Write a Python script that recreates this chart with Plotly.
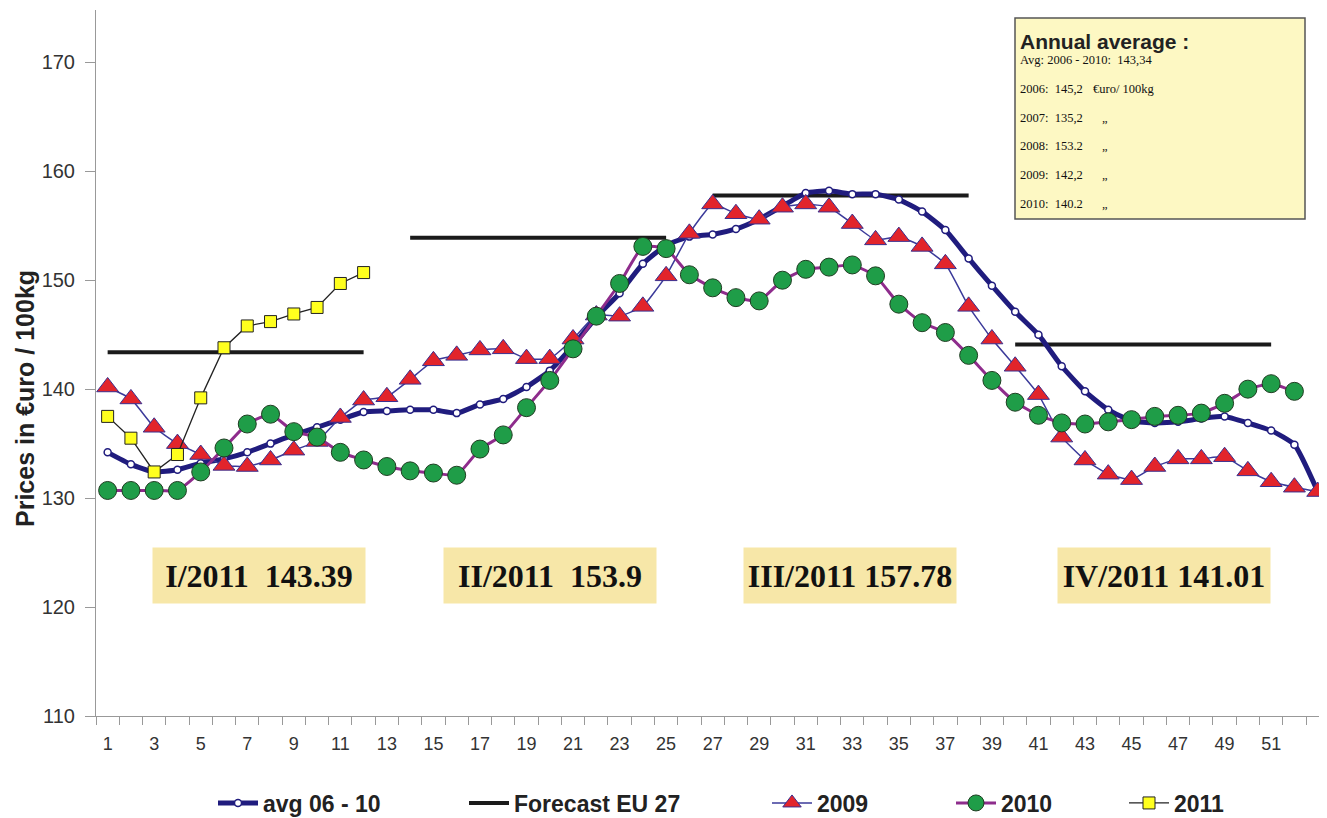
import plotly.graph_objects as go

# ---------------- data ----------------
weeks = list(range(1, 54))

avg_06_10 = [134.2, 133.1, 132.4, 132.6, 133.2, 133.6, 134.2, 135.0, 135.8, 136.5,
             137.2, 137.9, 138.0, 138.1, 138.1, 137.8, 138.6, 139.1, 140.2, 141.7,
             144.0, 146.6, 148.8, 151.5, 153.2, 154.0, 154.2, 154.7, 155.6, 156.8,
             158.0, 158.2, 157.9, 157.9, 157.4, 156.3, 154.6, 152.0, 149.5, 147.1,
             145.0, 142.1, 139.8, 138.1, 137.1, 136.9, 137.0, 137.3, 137.5, 136.9,
             136.2, 134.9, 130.6]

y2009 = [140.2, 139.1, 136.5, 135.0, 134.0, 133.0, 132.9, 133.5, 134.4, 135.2,
         137.4, 139.0, 139.3, 140.9, 142.6, 143.1, 143.6, 143.7, 142.8, 142.8,
         144.6, 146.8, 146.7, 147.6, 150.4, 154.3, 157.0, 156.1, 155.6, 156.7,
         157.0, 156.7, 155.2, 153.7, 154.0, 153.1, 151.5, 147.6, 144.6, 142.1,
         139.5, 135.6, 133.5, 132.2, 131.7, 132.9, 133.6, 133.6, 133.8, 132.5,
         131.5, 131.0, 130.6]

y2010 = [130.7, 130.7, 130.7, 130.7, 132.4, 134.6, 136.8, 137.7, 136.1, 135.6,
         134.2, 133.5, 132.9, 132.5, 132.3, 132.1, 134.5, 135.8, 138.3, 140.8,
         143.7, 146.7, 149.7, 153.1, 152.9, 150.5, 149.3, 148.4, 148.1, 150.0,
         151.0, 151.2, 151.4, 150.4, 147.8, 146.1, 145.2, 143.1, 140.8, 138.8,
         137.6, 136.9, 136.8, 137.0, 137.2, 137.5, 137.6, 137.8, 138.7, 140.0,
         140.5, 139.8]

y2011 = [137.5, 135.5, 132.4, 134.0, 139.2, 143.8, 145.8, 146.2, 146.9, 147.5,
         149.7, 150.7]

# Forecast EU 27 per quarter: start week, end week, level
fc_start = [1, 14, 27, 40]
fc_end = [12, 25, 38, 51]
fc_level = [143.39, 153.9, 157.78, 144.1]

quarter_labels = ["I/2011\u00a0 143.39", "II/2011\u00a0 153.9", "III/2011 157.78", "IV/2011 141.01"]
quarter_centers = [7.5, 20.0, 32.9, 46.4]

annual_title = "Annual average :"
annual_lines = ["Avg: 2006 - 2010:\u00a0 143,34", "2006:\u00a0 145,2", "2007:\u00a0 135,2",
                "2008:\u00a0 153.2", "2009:\u00a0 142,2", "2010:\u00a0 140.2"]
annual_suffix = ["", "€uro/ 100kg", "„", "„", "„", "„"]

x_tick_vals = list(range(1, 52, 2))
y_tick_vals = list(range(110, 171, 10))

# ---------------- layout helpers (reference pixel -> paper) ----------------
OFF = 8  # page body margin
W, H = 1327 - OFF, 818 - OFF
ML, MR, MT, MB = 96 - OFF, 0, 10 - OFF, 818 - 716
PW, PH = W - ML - MR, H - MT - MB


def px(x):
    return (x - OFF - ML) / PW


def py(y):
    return (H - MB - (y - OFF)) / PH


# forecast line segments
fc_x, fc_y = [], []
for s, e, v in zip(fc_start, fc_end, fc_level):
    fc_x += [s, e, None]
    fc_y += [v, v, None]

fig = go.Figure()

fig.add_trace(go.Scatter(
    x=fc_x, y=fc_y, mode="lines", name="Forecast EU 27",
    line=dict(color="#1b1b1b", width=4), legend="legend2"))

fig.add_trace(go.Scatter(
    x=weeks, y=avg_06_10, mode="lines+markers", name="avg 06 - 10",
    line=dict(color="#201c7e", width=5, shape="spline", smoothing=0.5),
    marker=dict(symbol="circle", size=7, color="white",
                line=dict(color="#201c7e", width=1.5)),
    legend="legend"))

fig.add_trace(go.Scatter(
    x=weeks, y=y2009, mode="lines+markers", name="2009",
    line=dict(color="#3b3a9a", width=1.5, shape="spline", smoothing=0.4),
    marker=dict(symbol="triangle-up", size=19, color="#e2242b",
                line=dict(color="#3b2f8f", width=1)),
    legend="legend3"))

fig.add_trace(go.Scatter(
    x=weeks[:len(y2010)], y=y2010, mode="lines+markers", name="2010",
    line=dict(color="#8e2c8c", width=3, shape="spline", smoothing=0.4),
    marker=dict(symbol="circle", size=18, color="#1f9d48",
                line=dict(color="#1f3d22", width=1)),
    legend="legend4"))

fig.add_trace(go.Scatter(
    x=weeks[:len(y2011)], y=y2011, mode="lines+markers", name="2011",
    line=dict(color="#222222", width=1.3),
    marker=dict(symbol="square", size=12, color="#ffff1e",
                line=dict(color="#222222", width=1)),
    legend="legend5"))

annotations = []
shapes = []

serif = "Liberation Serif, Times New Roman, serif"
sans = "Liberation Sans, Arial, sans-serif"

# quarter boxes
for lbl, cx in zip(quarter_labels, quarter_centers):
    annotations.append(dict(
        x=cx, y=122.9, xref="x", yref="y", xanchor="center", yanchor="middle",
        text="<b>" + lbl + "</b>",
        showarrow=False, bgcolor="#f7e7a8", width=208, height=51, borderpad=2,
        font=dict(family=serif, size=32, color="#111111")))

# annual average box
shapes.append(dict(type="rect", xref="paper", yref="paper",
                   x0=px(1015), x1=px(1305), y0=py(219), y1=py(18),
                   fillcolor="#fdf8c3", line=dict(color="#555555", width=1.5), layer="above"))
annotations.append(dict(x=px(1018), y=py(41), xref="paper", yref="paper", xanchor="left",
                        yanchor="middle", showarrow=False, text="<b>" + annual_title + "</b>",
                        font=dict(family=sans, size=21, color="#222222")))
line_ys = [60, 89, 118, 146, 175, 204]
for txt, suf, ly in zip(annual_lines, annual_suffix, line_ys):
    annotations.append(dict(x=px(1018), y=py(ly), xref="paper", yref="paper", xanchor="left",
                            yanchor="middle", showarrow=False, text=txt,
                            font=dict(family=serif, size=12.5, color="#111111")))
    if suf:
        sx = 1091 if suf != "„" else 1100
        annotations.append(dict(x=px(sx), y=py(ly), xref="paper", yref="paper", xanchor="left",
                                yanchor="middle", showarrow=False, text=suf,
                                font=dict(family=serif, size=12.5, color="#111111")))

# y-axis title
annotations.append(dict(x=px(25), y=py(399), xref="paper", yref="paper", textangle=-90,
                        xanchor="center", yanchor="middle",
                        showarrow=False, text="<b>Prices in €uro / 100kg</b>",
                        font=dict(family=sans, size=25, color="#222222")))

legend_font = dict(family=sans, size=23, color="#222222", weight="bold")


def leg(xpix):
    return dict(x=px(xpix), y=py(803), xanchor="left", yanchor="middle", orientation="h",
                bgcolor="rgba(0,0,0,0)", font=legend_font, itemwidth=40)


fig.update_layout(
    width=W, height=H,
    margin=dict(l=ML, r=MR, t=MT, b=MB, autoexpand=False),
    paper_bgcolor="white", plot_bgcolor="white",
    showlegend=True,
    legend=leg(213), legend2=leg(464), legend3=leg(767), legend4=leg(951), legend5=leg(1124),
    xaxis=dict(range=[0.5, 53.4], tickmode="array", tickvals=x_tick_vals,
               ticktext=[str(v) for v in x_tick_vals], ticks="", showgrid=False, zeroline=False,
               showline=True, linecolor="#999999", linewidth=1,
               tickfont=dict(family=sans, size=18, color="#333333"),
               ticklabelstandoff=11,
               minor=dict(tickmode="array", tickvals=[k + 0.5 for k in range(0, 54)],
                          ticks="outside", ticklen=8, tickcolor="#999999", showgrid=False)),
    yaxis=dict(range=[110, 174.8], tickmode="array", tickvals=y_tick_vals, ticks="outside",
               ticklen=10, tickcolor="#999999", showgrid=False, zeroline=False,
               showline=True, linecolor="#999999", linewidth=1,
               tickfont=dict(family=sans, size=20, color="#333333"),
               ticklabelstandoff=6),
    annotations=annotations, shapes=shapes,
)

fig.write_html("out.html")
